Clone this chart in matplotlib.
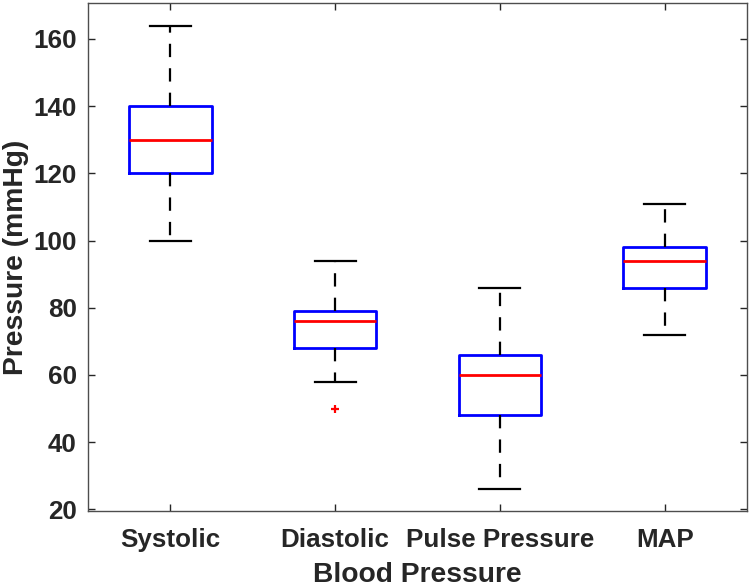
import matplotlib
matplotlib.use("Agg")
import matplotlib.pyplot as plt

# box statistics
labels = ["Systolic", "Diastolic", "Pulse Pressure", "MAP"]
whislo = [100, 58, 26, 72]
q1 = [120, 68, 48, 86]
med = [130, 76, 60, 94]
q3 = [140, 79, 66, 98]
whishi = [164, 94, 86, 111]
fliers = [[], [50], [], []]

plt.rcParams['font.family'] = ['Liberation Sans', 'DejaVu Sans']
plt.rcParams['font.weight'] = 'bold'
ink = "#262626"

stats = []
for i in range(len(labels)):
    stats.append(dict(label=labels[i], whislo=whislo[i], q1=q1[i], med=med[i],
                      q3=q3[i], whishi=whishi[i], fliers=fliers[i]))

fig = plt.figure(figsize=(7.5, 5.88), dpi=100)
ax = fig.add_axes([88/750, 1 - 511/588, (747-88)/750, (511-3)/588])

ax.bxp(stats, positions=[1, 2, 3, 4], widths=0.5, capwidths=0.25,
       boxprops=dict(color="blue", linewidth=2),
       medianprops=dict(color="red", linewidth=2),
       whiskerprops=dict(color="black", linewidth=1.6, linestyle=(0, (6, 5))),
       capprops=dict(color="black", linewidth=1.6),
       flierprops=dict(marker="+", markeredgecolor="red", markersize=6, markeredgewidth=1.6))

ax.set_xlim(0.5, 4.5)
ax.set_ylim(19.5, 170.7)
ax.set_yticks([20, 40, 60, 80, 100, 120, 140, 160])

ax.tick_params(direction="in", top=True, right=True, length=5, width=1,
               colors=ink, labelsize=18.7, labelcolor=ink)
ax.tick_params(axis="x", pad=12.5)
ax.tick_params(axis="y", pad=8)
for s in ax.spines.values():
    s.set_color("#4d4d4d")
    s.set_linewidth(1)
for lab in ax.get_xticklabels() + ax.get_yticklabels():
    lab.set_fontweight("bold")

ax.set_xlabel("Blood Pressure", fontsize=20.3, fontweight="bold", color=ink, labelpad=7)
ax.set_ylabel("Pressure (mmHg)", fontsize=20.3, fontweight="bold", color=ink, labelpad=3)

fig.savefig("out.png", dpi=100)
